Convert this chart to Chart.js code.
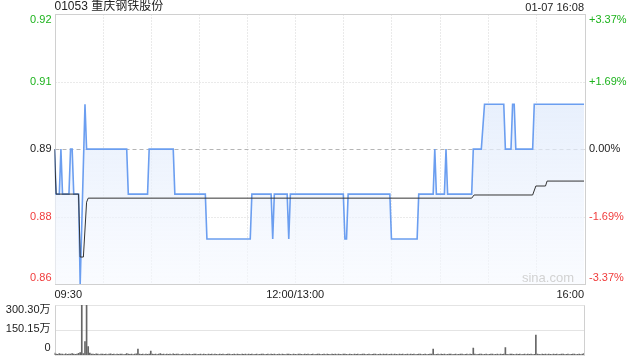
<!DOCTYPE html>
<html lang="zh-cn">
<head>
    <meta charset="UTF-8" />
    <title>01053 重庆钢铁股份</title>
    <script src="https://cdn.jsdelivr.net/npm/chart.js"></script>
    <style>
        body { margin: 0; background: #fff; }
        .wrap { position: relative; width: 640px; height: 360px; overflow: hidden; }
        #priceChart { position: absolute; left: 0; top: 0; }
        #volChart { position: absolute; left: 0; top: 298px; }
    </style>
</head>
<body>
    <div class="wrap">
        <canvas id="priceChart" width="640" height="300"></canvas>
        <canvas id="volChart" width="640" height="62"></canvas>
    </div>
<script>
    // 分时数据 (分钟数从 09:30 起, 午休不计)
    var titulo = "01053 重庆钢铁股份";
    var horario = "01-07 16:08";
    var preClose = 0.89;

    var priceTimes = [0, 1, 3, 4, 5, 9, 10, 11, 12, 15, 16, 19, 20, 45, 46, 58, 59, 74, 75, 94, 95, 122, 123,
        135, 136, 137, 145, 146, 147, 180, 181, 182, 183, 209, 210, 226, 227, 236, 237, 238, 243, 244, 245,
        260, 261, 266, 268, 280, 281, 284.5, 285.5, 286.5, 287.5, 298, 299, 330];
    var prices = [0.89, 0.88, 0.88, 0.89, 0.88, 0.88, 0.89, 0.89, 0.88, 0.88, 0.86, 0.90, 0.89, 0.89, 0.88, 0.88, 0.89, 0.89, 0.88, 0.88, 0.87, 0.87, 0.88,
        0.88, 0.87, 0.88, 0.88, 0.87, 0.88, 0.88, 0.87, 0.87, 0.88, 0.88, 0.87, 0.87, 0.88, 0.88, 0.89, 0.88, 0.88, 0.89, 0.88,
        0.88, 0.89, 0.89, 0.90, 0.90, 0.89, 0.89, 0.90, 0.90, 0.89, 0.89, 0.90, 0.90];

    var avgTimes = [0, 1, 15, 16, 18, 20, 21, 260, 261.5, 298, 300, 306, 307, 330];
    var avgPrices = [0.89, 0.88, 0.88, 0.866, 0.866, 0.8782, 0.8791, 0.8791, 0.8798, 0.8798, 0.8818, 0.8818, 0.8829, 0.8829];

    // 成交量 (万), 每分钟一根
    var volumes = [
        12, 6, 4, 8, 5, 6, 3, 7, 4, 5, 6, 8, 5, 4, 6, 10, 14, 300.3, 9, 80, 300.3, 50, 12, 6, 5, 4, 7, 5, 3, 6,
        5, 4, 6, 3, 5, 7, 4, 5, 3, 6, 4, 5, 6, 3, 4, 8, 5, 4, 6, 3, 5, 7, 36, 5, 4, 6, 3, 5, 4, 6,
        24, 5, 4, 6, 3, 5, 8, 4, 5, 3, 6, 4, 5, 3, 7, 4, 5, 6, 3, 4, 5, 3, 6, 4, 5, 3, 4, 6, 5, 3,
        4, 6, 3, 5, 4, 3, 5, 4, 6, 3, 5, 4, 3, 6, 4, 5, 3, 4, 5, 6, 3, 4, 5, 3, 6, 4, 3, 5, 4, 6,
        3, 5, 4, 6, 3, 4, 5, 3, 4, 6, 5, 3, 4, 5, 3, 6, 4, 5, 3, 4, 6, 3, 5, 4, 3, 5, 6, 4, 3, 5,
        4, 3, 6, 5, 4, 3, 5, 4, 6, 3, 4, 5, 3, 4, 6, 5, 3, 4, 5, 3, 6, 4, 3, 5, 4, 6, 3, 5, 4, 3,
        5, 6, 4, 3, 5, 4, 3, 6, 4, 5, 3, 4, 5, 6, 3, 4, 5, 3, 4, 6, 5, 3, 4, 5, 3, 6, 4, 5, 3, 4,
        6, 3, 5, 4, 3, 5, 4, 6, 3, 4, 5, 3, 6, 4, 5, 3, 4, 5, 6, 3, 4, 5, 3, 4, 6, 5, 36, 3, 4, 5,
        3, 6, 4, 5, 3, 4, 5, 6, 3, 4, 5, 3, 4, 6, 5, 3, 4, 5, 3, 6, 4, 42, 5, 3, 4, 6, 5, 3, 4, 5,
        3, 4, 6, 5, 3, 4, 5, 3, 6, 4, 5, 44, 4, 3, 6, 5, 4, 3, 5, 4, 6, 3, 4, 5, 3, 6, 4, 5, 3, 4,
        120, 6, 4, 3, 5, 4, 6, 3, 5, 4, 3, 6, 4, 5, 3, 4, 5, 6, 3, 4, 5, 3, 4, 6, 5, 3, 4, 5, 3, 6,
        8
    ];

    // 坐标轴刻度
    var priceTicks = [0.92, 0.905, 0.89, 0.875, 0.86];
    var priceLabels = ["0.92", "0.91", "0.89", "0.88", "0.86"];
    var pctLabels = ["+3.37%", "+1.69%", "0.00%", "-1.69%", "-3.37%"];
    var tickColors = ["#1db31d", "#1db31d", "#222", "#f03c3c", "#f03c3c"];
    var gridTimes = [30, 60, 90, 120, 150, 180, 210, 240, 270, 300];
    var xLabelTimes = [0, 150, 330];
    var xLabels = ["09:30", "12:00/13:00", "16:00"];
    var volTicks = [300.3, 150.15, 0];
    var volLabels = ["300.30万", "150.15万", "0"];

    var fonte = "11px 'Liberation Sans', 'Noto Sans CJK SC', sans-serif";

    function linha(ctx, x1, y1, x2, y2, cor, tracejado) {
        ctx.save();
        ctx.strokeStyle = cor;
        ctx.lineWidth = 1;
        ctx.setLineDash(tracejado || []);
        ctx.beginPath();
        ctx.moveTo(Math.round(x1) + 0.5, Math.round(y1) + 0.5);
        ctx.lineTo(Math.round(x2) + 0.5, Math.round(y2) + 0.5);
        ctx.stroke();
        ctx.restore();
    }

    var gradeGrafico = {
        id: "gradeGrafico",
        beforeDatasetsDraw(chart) {
            var ctx = chart.ctx, a = chart.chartArea;
            var x = chart.scales.x, y = chart.scales.y;
            for (var i = 0; i < gridTimes.length; i++) {
                var px = x.getPixelForValue(gridTimes[i]);
                linha(ctx, px, a.top, px, a.bottom, "#d4d4d4", [1, 2]);
            }
            for (var j = 1; j < priceTicks.length - 1; j++) {
                var py = y.getPixelForValue(priceTicks[j]);
                if (priceTicks[j] === preClose) {
                    linha(ctx, a.left, py, a.right, py, "#b5b5b5", [4, 3]);
                } else {
                    linha(ctx, a.left, py, a.right, py, "#d4d4d4", [1, 2]);
                }
            }
            ctx.save();
            ctx.strokeStyle = "#d0d0d0";
            ctx.lineWidth = 1;
            ctx.strokeRect(Math.round(a.left) + 0.5, Math.round(a.top) + 0.5,
                Math.round(a.right - a.left), Math.round(a.bottom - a.top));
            ctx.restore();
        },
        afterDraw(chart) {
            var ctx = chart.ctx, a = chart.chartArea;
            var x = chart.scales.x, y = chart.scales.y;
            ctx.save();
            ctx.font = "12px 'Liberation Sans', 'Noto Sans CJK SC', sans-serif";
            ctx.fillStyle = "#222";
            ctx.textBaseline = "middle";
            ctx.textAlign = "left";
            ctx.fillText(titulo, a.left, 7);
            ctx.font = fonte;
            ctx.textAlign = "right";
            ctx.fillText(horario, a.right, 8);

            for (var i = 0; i < priceTicks.length; i++) {
                var py = y.getPixelForValue(priceTicks[i]);
                if (i === 0) py += 6;
                if (i === priceTicks.length - 1) py -= 6;
                ctx.fillStyle = tickColors[i];
                ctx.textAlign = "right";
                ctx.fillText(priceLabels[i], a.left - 3, py);
                ctx.textAlign = "left";
                ctx.fillText(pctLabels[i], a.right + 5, py);
            }

            ctx.fillStyle = "#222";
            var alinh = ["left", "center", "right"];
            for (var k = 0; k < xLabels.length; k++) {
                ctx.textAlign = alinh[k];
                ctx.fillText(xLabels[k], x.getPixelForValue(xLabelTimes[k]), a.bottom + 11);
            }

            ctx.font = "13px 'Liberation Sans', sans-serif";
            ctx.fillStyle = "#d2d2d2";
            ctx.textAlign = "right";
            ctx.fillText("sina.com", a.right - 10, a.bottom - 6);
            ctx.restore();
        }
    };

    var gradeVolume = {
        id: "gradeVolume",
        beforeDatasetsDraw(chart) {
            var ctx = chart.ctx, a = chart.chartArea;
            var x = chart.scales.x, y = chart.scales.y;
            for (var i = 0; i < volTicks.length; i++) {
                var py = y.getPixelForValue(volTicks[i]);
                linha(ctx, a.left, py, a.right, py, "#c8c8c8", [1, 1]);
            }
            linha(ctx, a.left, a.top, a.left, a.bottom, "#d0d0d0");
            linha(ctx, a.right, a.top, a.right, a.bottom, "#d0d0d0");
        },
        afterDraw(chart) {
            var ctx = chart.ctx, a = chart.chartArea;
            var y = chart.scales.y;
            ctx.save();
            ctx.font = fonte;
            ctx.fillStyle = "#222";
            ctx.textAlign = "right";
            ctx.textBaseline = "middle";
            var desloc = [5, -1, -7];
            for (var i = 0; i < volTicks.length; i++) {
                ctx.fillText(volLabels[i], a.left - 4, y.getPixelForValue(volTicks[i]) + desloc[i]);
            }
            ctx.restore();
        }
    };

    var dadosPreco = [];
    for (var i = 0; i < priceTimes.length; i++) {
        dadosPreco.push({ x: priceTimes[i], y: prices[i] });
    }
    var dadosMedia = [];
    for (var i = 0; i < avgTimes.length; i++) {
        dadosMedia.push({ x: avgTimes[i], y: avgPrices[i] });
    }
    var dadosVolume = [];
    for (var i = 0; i < volumes.length; i++) {
        dadosVolume.push({ x: i, y: volumes[i] });
    }

    new Chart(document.getElementById("priceChart"), {
        type: "line",
        data: {
            datasets: [
                {
                    data: dadosMedia,
                    borderColor: "#333",
                    borderWidth: 1,
                    pointRadius: 0,
                    fill: false,
                    tension: 0,
                },
                {
                    data: dadosPreco,
                    borderColor: "#6b9ef0",
                    borderWidth: 1.6,
                    pointRadius: 0,
                    tension: 0,
                    fill: "start",
                    backgroundColor: function (context) {
                        var a = context.chart.chartArea;
                        if (!a) return "rgba(220,232,250,0.6)";
                        var g = context.chart.ctx.createLinearGradient(0, a.top, 0, a.bottom);
                        g.addColorStop(0, "rgba(214,228,250,0.85)");
                        g.addColorStop(1, "rgba(246,249,255,0.6)");
                        return g;
                    },
                },
            ],
        },
        options: {
            responsive: false,
            animation: false,
            devicePixelRatio: 1,
            layout: { padding: { left: 54.5, right: 56, top: 14.3, bottom: 16 } },
            plugins: { legend: { display: false }, tooltip: { enabled: false } },
            scales: {
                x: { type: "linear", min: 0, max: 330, display: false },
                y: { min: 0.86, max: 0.92, display: false },
            },
        },
        plugins: [gradeGrafico],
    });

    new Chart(document.getElementById("volChart"), {
        type: "bar",
        data: {
            datasets: [
                {
                    data: dadosVolume,
                    backgroundColor: "#666",
                    barThickness: 1,
                },
            ],
        },
        options: {
            responsive: false,
            animation: false,
            devicePixelRatio: 1,
            layout: { padding: { left: 54.5, right: 56, top: 7, bottom: 5 } },
            plugins: { legend: { display: false }, tooltip: { enabled: false } },
            scales: {
                x: { type: "linear", min: 0, max: 330, display: false, offset: false },
                y: { min: 0, max: 300.3, display: false },
            },
        },
        plugins: [gradeVolume],
    });
</script>
</body>
</html>
